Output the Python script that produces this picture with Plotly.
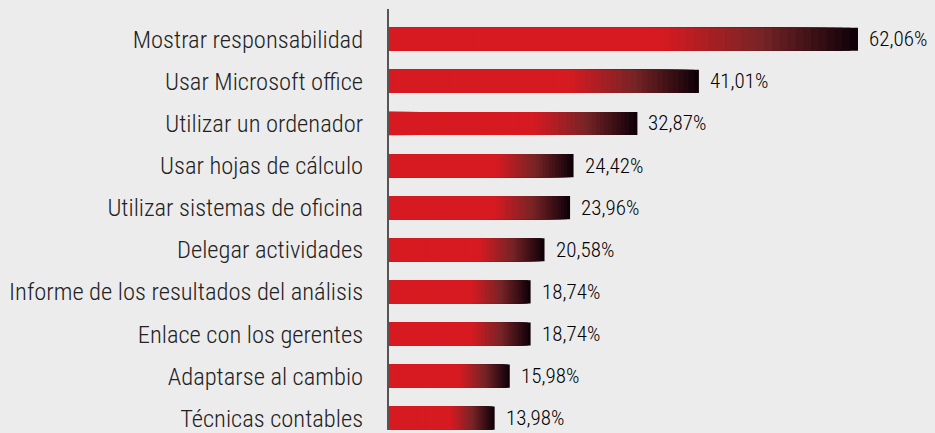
import plotly.graph_objects as go

categories = [
    "Mostrar responsabilidad",
    "Usar Microsoft office",
    "Utilizar un ordenador",
    "Usar hojas de cálculo",
    "Utilizar sistemas de oficina",
    "Delegar actividades",
    "Informe de los resultados del análisis",
    "Enlace con los gerentes",
    "Adaptarse al cambio",
    "Técnicas contables",
]
values = [62.06, 41.01, 32.87, 24.42, 23.96, 20.58, 18.74, 18.74, 15.98, 13.98]
value_labels = ["62,06%", "41,01%", "32,87%", "24,42%", "23,96%", "20,58%",
                "18,74%", "18,74%", "15,98%", "13,98%"]

RED = (215, 26, 33)
MID = (120, 36, 38)
DARK = (12, 0, 8)
N = 60
START = 0.58
FONT = "Roboto Condensed, Liberation Sans Narrow, DejaVu Sans Condensed"


def mix(a, b, t):
    return tuple(round(a[i] + (b[i] - a[i]) * t) for i in range(3))


def color_at(f):
    if f <= START:
        c = RED
    else:
        t = (f - START) / (1 - START)
        c = mix(RED, MID, t * 2) if t < 0.5 else mix(MID, DARK, (t - 0.5) * 2)
    return "rgb(%d,%d,%d)" % c


fig = go.Figure()
for j in range(N - 1, -1, -1):
    frac = (j + 1) / N
    fig.add_trace(go.Bar(
        y=categories,
        x=[v * frac for v in values],
        orientation="h",
        marker=dict(color=color_at((j + 0.5) / N), line=dict(width=0)),
        width=0.55,
        hoverinfo="skip",
        showlegend=False,
    ))

for c, v, lab in zip(categories, values, value_labels):
    fig.add_annotation(x=v, y=c, text=lab, showarrow=False, xanchor="left",
                       xshift=9, font=dict(size=21, color="#000000",
                                           family=FONT, weight=350))

fig.update_layout(
    width=935, height=433,
    margin=dict(l=389, r=0, t=9, b=0),
    paper_bgcolor="#ececec", plot_bgcolor="#ececec",
    barmode="overlay",
    font=dict(family=FONT, color="#222"),
    xaxis=dict(range=[0, 72.25], visible=False, fixedrange=True),
    yaxis=dict(range=[9.281, -0.719], showline=True, linecolor="#555", linewidth=2,
               showgrid=False, zeroline=False, ticks="", ticklabelstandoff=19,
               tickfont=dict(size=24.5, color="#222", weight=300)),
)

fig.write_html("out.html", config={"displayModeBar": False},
               post_script="document.body.style.margin='0';document.body.style.padding='0';")
